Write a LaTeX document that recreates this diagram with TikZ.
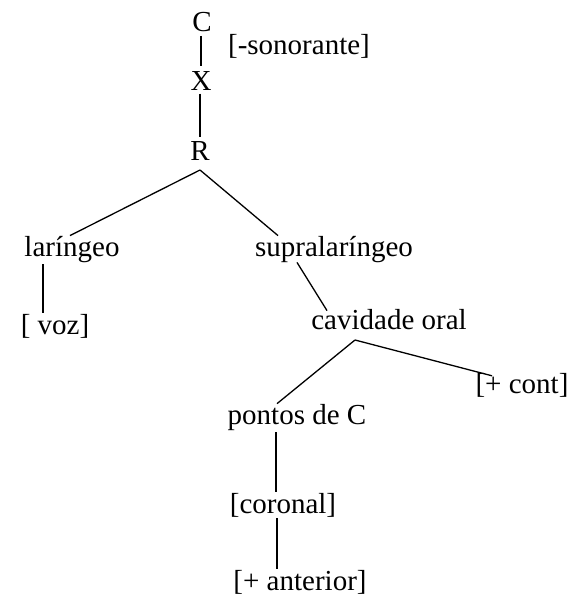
\documentclass[tikz,border=0pt]{standalone}
\usepackage{fontspec}
\setmainfont{Liberation Serif}
\begin{document}
\begin{tikzpicture}[x=1pt,y=-1pt,
  lbl/.style={inner sep=1pt,font=\fontsize{29}{31}\selectfont},
  edge/.style={line width=1.3pt}]
\useasboundingbox (0,0) rectangle (576,600);
\node[lbl] (C) at (202,22) {C};
\node[lbl] (son) at (299,46) {[-sonorante]};
\node[lbl] (X) at (201,81) {X};
\node[lbl] (R) at (200,151) {R};
\node[lbl] (lar) at (72,250) {laríngeo};
\node[lbl] (voz) at (55,326) {[ voz]};
\node[lbl] (sup) at (334,250) {supralaríngeo};
\node[lbl] (cav) at (389,320) {cavidade oral};
\node[lbl] (pon) at (297,418) {pontos de C};
\node[lbl] (cont) at (522,385) {[+ cont]};
\node[lbl] (cor) at (283,505) {[coronal]};
\node[lbl] (ant) at (300,582) {[+ anterior]};
\coordinate (Rb) at (200,170);
\coordinate (cb) at (355,340);
\draw[edge,shorten <=3pt,shorten >=4pt] (C.south -| 201,0) -- (X.north -| 201,0);
\draw[edge,shorten <=2pt,shorten >=3pt] (X.south -| 200,0) -- (R.north -| 200,0);
\draw[edge] (Rb) -- ([xshift=-2pt]lar.north);
\draw[edge] (Rb) -- ([xshift=-56pt]sup.north);
\draw[edge] (lar.south -| 43,0) -- (voz.north -| 43,0);
\draw[edge] ([xshift=-37pt,yshift=2pt]sup.south) -- ([xshift=-62pt,yshift=-2pt]cav.north);
\draw[edge] (cb) -- ([xshift=-20pt]pon.north);
\draw[edge] (cb) -- ([xshift=-30pt,yshift=-4pt]cont.north);
\draw[edge] (pon.south -| 276,0) -- (cor.north -| 276,0);
\draw[edge] (cor.south -| 277,0) -- (ant.north -| 277,0);
\end{tikzpicture}
\end{document}
